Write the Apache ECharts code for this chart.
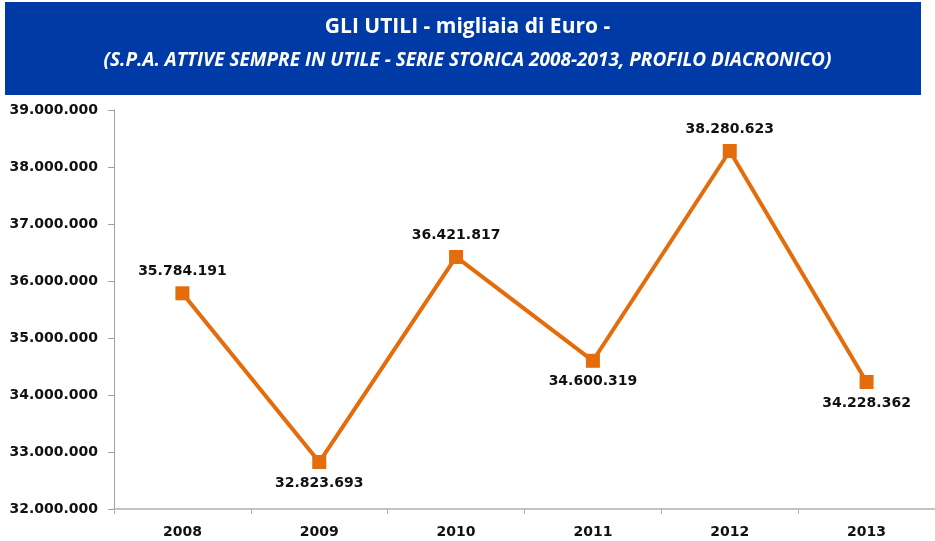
<!DOCTYPE html>
<html>
<head>
<meta charset="utf-8">
<script src="https://cdn.jsdelivr.net/npm/echarts@6/dist/echarts.min.js"></script>
<style>
  html, body { margin: 0; padding: 0; background: #fff; }
  #chart { width: 935px; height: 541px; }
</style>
</head>
<body>
<div id="chart"></div>
<script>
const years = ['2008', '2009', '2010', '2011', '2012', '2013']
const utili = [35784191, 32823693, 36421817, 34600319, 38280623, 34228362]
// label above or below the point
const labelSide = ['top', 'bottom', 'top', 'bottom', 'top', 'bottom']

const titleText = 'GLI UTILI - migliaia di Euro -'
const subtitleText = '(S.P.A. ATTIVE SEMPRE IN UTILE - SERIE STORICA 2008-2013, PROFILO DIACRONICO)'

function fmt(v) {
  return String(Math.round(v)).replace(/\B(?=(\d{3})+(?!\d))/g, '.')
}

const chart = echarts.init(document.getElementById('chart'))

chart.setOption({
  backgroundColor: '#fff',
  animation: false,
  graphic: [
    {
      type: 'rect',
      shape: { x: 5, y: 2, width: 916, height: 93 },
      style: { fill: '#003aa6' },
      z: 0
    }
  ],
  title: [
    {
      text: titleText,
      left: 'center',
      top: 12,
      textStyle: { color: '#fff', fontFamily: 'Open Sans', fontWeight: 'bold', fontSize: 21 }
    },
    {
      text: subtitleText,
      left: 'center',
      top: 46,
      textStyle: { color: '#fff', fontFamily: 'Open Sans', fontWeight: 'bold', fontStyle: 'italic', fontSize: 19 }
    }
  ],
  grid: { left: 114, right: -4, top: 110, bottom: 32 },
  xAxis: {
    type: 'category',
    data: years,
    boundaryGap: true,
    axisLine: { lineStyle: { color: '#b0b0b0', width: 1.5 } },
    axisTick: { show: true, length: 5, lineStyle: { color: '#b0b0b0' } },
    axisLabel: { color: '#111', fontFamily: 'DejaVu Sans', fontWeight: 'bold', fontSize: 14, margin: 16 },
    splitLine: { show: false }
  },
  yAxis: {
    type: 'value',
    min: 32000000,
    max: 39000000,
    interval: 1000000,
    axisLine: { show: true, lineStyle: { color: '#a0a0a0' } },
    axisTick: { show: true, length: 6, lineStyle: { color: '#a0a0a0' } },
    axisLabel: {
      color: '#111', fontFamily: 'DejaVu Sans', fontWeight: 'bold', fontSize: 14, margin: 16,
      formatter: fmt
    },
    splitLine: { show: false }
  },
  series: [
    {
      type: 'line',
      data: utili.map((v, i) => ({
        value: v,
        label: { position: labelSide[i], distance: labelSide[i] === 'top' ? 8 : 7 }
      })),
      symbol: 'rect',
      symbolSize: 14,
      lineStyle: { color: '#e46c0a', width: 4 },
      itemStyle: { color: '#e46c0a' },
      label: {
        show: true,
        formatter: p => fmt(p.value),
        color: '#111',
        fontFamily: 'DejaVu Sans',
        fontWeight: 'bold',
        fontSize: 14
      }
    }
  ]
})
</script>
</body>
</html>
